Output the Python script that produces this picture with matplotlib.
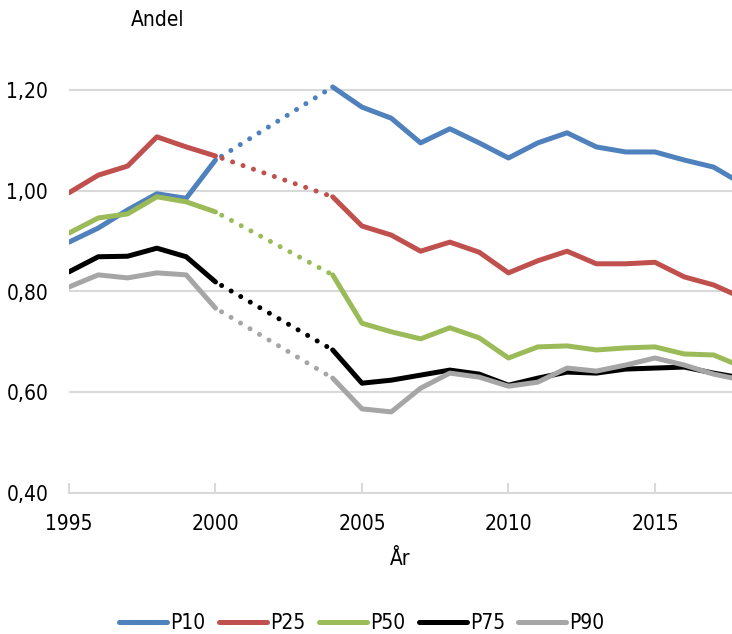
import numpy as np
import matplotlib
matplotlib.use("Agg")
import matplotlib.pyplot as plt
from matplotlib.lines import Line2D

plt.rcParams['font.family'] = ['DejaVu Sans']
plt.rcParams['font.stretch'] = 'condensed'

years = list(range(1995, 2019))
nan = np.nan
p10 = [0.898, 0.926, 0.962, 0.994, 0.985, 1.061, nan, nan, nan, 1.206, 1.166, 1.144, 1.095, 1.123,
       1.095, 1.065, 1.095, 1.115, 1.087, 1.077, 1.077, 1.061, 1.047, 1.013]
p25 = [0.996, 1.031, 1.049, 1.107, 1.087, 1.069, nan, nan, nan, 0.988, 0.930, 0.912, 0.880, 0.898,
       0.878, 0.837, 0.861, 0.880, 0.855, 0.855, 0.858, 0.829, 0.813, 0.787]
p50 = [0.916, 0.946, 0.954, 0.988, 0.978, 0.958, nan, nan, nan, 0.833, 0.737, 0.720, 0.706, 0.728,
       0.708, 0.668, 0.690, 0.692, 0.684, 0.688, 0.690, 0.676, 0.674, 0.650]
p75 = [0.839, 0.869, 0.870, 0.886, 0.869, 0.819, nan, nan, nan, 0.684, 0.618, 0.624, 0.634, 0.644,
       0.636, 0.614, 0.628, 0.640, 0.638, 0.646, 0.648, 0.650, 0.638, 0.628]
p90 = [0.809, 0.833, 0.827, 0.837, 0.833, 0.767, nan, nan, nan, 0.628, 0.567, 0.561, 0.608, 0.638,
       0.630, 0.612, 0.620, 0.648, 0.642, 0.654, 0.668, 0.654, 0.636, 0.624]

series = ['P10', 'P25', 'P50', 'P75', 'P90']
values = [p10, p25, p50, p75, p90]
colors = ['#4F81BD', '#C0504D', '#9BBB59', '#000000', '#A6A6A6']
yticks = [0.40, 0.60, 0.80, 1.00, 1.20]
ytick_labels = ['0,40', '0,60', '0,80', '1,00', '1,20']
xticks = [1995, 2000, 2005, 2010, 2015]

W, H = 732, 634
fig = plt.figure(figsize=(W / 100, H / 100), dpi=100)
ax = fig.add_axes([69 / W, (H - 493) / H, (732 - 69) / W, (493 - 65) / H])

lw = 3.6
x = np.array(years)
for name, vals, c in zip(series, values, colors):
    v = np.array(vals, dtype=float)
    ax.plot(x, v, color=c, lw=lw, solid_joinstyle='round', solid_capstyle='round', zorder=3)
    # dotted bridge over the gap 2000 -> 2004
    i0, i1 = years.index(2000), years.index(2004)
    ax.plot([x[i0], x[i1]], [v[i0], v[i1]], color=c, lw=lw,
            linestyle=(0.8, (0.01, 2.2)), dash_capstyle='round', zorder=3)

ax.set_xlim(1995, 2017.63)
ax.set_ylim(0.40, 0.40 + (493 - 65) / 503.75)
ax.set_yticks(yticks)
ax.set_yticklabels(ytick_labels)
ax.set_xticks(xticks)
ax.set_xticklabels([str(t) for t in xticks])
ax.grid(axis='y', color='#D9D9D9', lw=1.5, zorder=0)
for s in ['top', 'right', 'left']:
    ax.spines[s].set_visible(False)
ax.spines['bottom'].set_color('#D9D9D9')
ax.spines['bottom'].set_linewidth(1.5)
ax.tick_params(axis='y', length=0, pad=15, labelsize=15)
ax.tick_params(axis='x', direction='in', length=7, width=1.5, color='#D9D9D9', pad=15, labelsize=15)

ax.set_xlabel('År', fontsize=15, labelpad=11)
fig.text(158 / W, 1 - 20 / H, 'Andel', fontsize=15, ha='center', va='center')

handles = [Line2D([0], [0], color=c, lw=lw, solid_capstyle='round') for c in colors]
fig.legend(handles, series, loc='center', bbox_to_anchor=(362 / W, 1 - 623 / H), ncol=5,
           frameon=False, fontsize=15, handlelength=2.3, handletextpad=0.15, columnspacing=0.65)

fig.savefig('out.png', dpi=100)
